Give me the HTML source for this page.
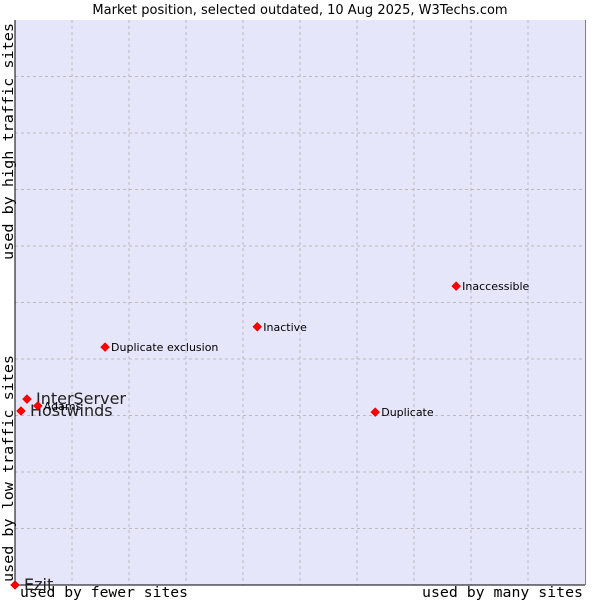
<!DOCTYPE html>
<html><head><meta charset="utf-8"><style>
body{margin:0;background:#fff;}
svg text{font-family:"DejaVu Sans","Liberation Sans",sans-serif;}
.mono{font-family:"DejaVu Sans Mono","Liberation Mono",monospace;font-size:14.5px;fill:#000;}
</style></head><body>
<svg id="chart" width="600" height="600" xmlns="http://www.w3.org/2000/svg">
<rect x="0" y="0" width="600" height="600" fill="#fff"/>
<text x="300" y="14" text-anchor="middle" font-size="13" fill="#000">Market position, selected outdated, 10 Aug 2025, W3Techs.com</text>
<rect x="15" y="20" width="570" height="565" fill="#e6e6fa"/>
<g id="grid"></g>
<line x1="15" y1="585" x2="585" y2="585" stroke="#000"/>
<line x1="15" y1="20" x2="15" y2="585" stroke="#000"/>
<rect x="585" y="20" width="0.5" height="565" fill="#000"/>
<text class="mono" x="20" y="597" textLength="168" lengthAdjust="spacingAndGlyphs">used by fewer sites</text>
<text class="mono" x="422" y="597" textLength="161" lengthAdjust="spacingAndGlyphs">used by many sites</text>
<text class="mono" transform="translate(13,582) rotate(-90)" textLength="227" lengthAdjust="spacingAndGlyphs">used by low traffic sites</text>
<text class="mono" transform="translate(13,260) rotate(-90)" textLength="237" lengthAdjust="spacingAndGlyphs">used by high traffic sites</text>
<g id="points"></g>
</svg>
<script>
const names = ["Ezit","Hostwinds","InterServer","Adams","Duplicate exclusion","Inactive","Duplicate","Inaccessible"];
const xValues = [0,1.05,2.1,4.0,15.8,42.5,63.2,77.4];
const yValues = [0,30.8,32.9,31.7,42.1,45.7,30.6,52.9];
const bigLabel = [true,true,true,false,false,false,false,false];
const NS="http://www.w3.org/2000/svg";
const X0=15,X1=585,Y0=585,Y1=20;
function sx(v){return X0+(X1-X0)*v/100;}
function sy(v){return Y0-(Y0-Y1)*v/100;}
const grid=document.getElementById('grid');
for(let i=1;i<10;i++){
  const l=document.createElementNS(NS,'line');
  
  
  l.setAttribute('x1',sx(i*10));l.setAttribute('x2',sx(i*10));l.setAttribute('y1',Y1);l.setAttribute('y2',Y0);
  l.setAttribute('stroke','#bbb');l.setAttribute('stroke-dasharray','3,3');grid.appendChild(l);
  const h=document.createElementNS(NS,'line');
  
  
  h.setAttribute('x1',X0);h.setAttribute('x2',X1);h.setAttribute('y1',sy(i*10));h.setAttribute('y2',sy(i*10));
  h.setAttribute('stroke','#bbb');h.setAttribute('stroke-dasharray','3,3');grid.appendChild(h);
}
const pts=document.getElementById('points');
names.forEach((n,i)=>{
  const x=sx(xValues[i]),y=sy(yValues[i]);
  const d=document.createElementNS(NS,'polygon');
  
  
  d.setAttribute('points',`${x},${y-4.5} ${x+4.5},${y} ${x},${y+4.5} ${x-4.5},${y}`);
  d.setAttribute('fill','#f00');d.setAttribute('stroke','#c00');d.setAttribute('stroke-width','0.5');
  pts.appendChild(d);
  const t=document.createElementNS(NS,'text');
  
  
  const big=bigLabel[i];
  t.setAttribute('x',x+(big?9:6));t.setAttribute('y',y+(big?5:4));
  t.setAttribute('font-size',big?16:11);t.setAttribute('fill',big?'#222':'#000');
  t.textContent=n;pts.appendChild(t);
});
</script>
</body></html>
